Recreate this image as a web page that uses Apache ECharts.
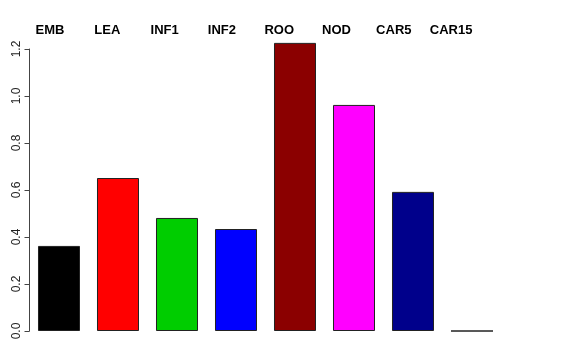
<!DOCTYPE html>
<html><head><meta charset="utf-8">
<script src="https://cdn.jsdelivr.net/npm/echarts@6/dist/echarts.min.js"></script>
<style>html,body{margin:0;padding:0;background:#fff}#c{width:576px;height:360px}</style>
</head><body><div id="c"></div>
<script>
const categories = ['EMB','LEA','INF1','INF2','ROO','NOD','CAR5','CAR15'];
const values = [0.362, 0.651, 0.481, 0.434, 1.226, 0.962, 0.592, 0.0];
const colors = ['#000000','#FF0000','#00CD00','#0000FF','#8B0000','#FF00FF','#00008B','#FFFFFF'];
const yTicks = [0, 0.2, 0.4, 0.6, 0.8, 1.0, 1.2];

const chart = echarts.init(document.getElementById('c'));
const font = 'Liberation Sans, Arial, sans-serif';
chart.setOption({
  animation: false,
  grid: [
    {left: 29.5, top: 41.95, width: 472, bottom: 29},
    {left: 21.35, top: 38, width: 458.4, height: 1},
    {left: 29.5, top: 49, width: 472, bottom: 29}
  ],
  xAxis: [
    {type: 'category', gridIndex: 0, data: categories, axisLine: {show: false}, axisTick: {show: false}, axisLabel: {show: false}},
    {type: 'category', gridIndex: 1, position: 'top', data: categories, axisLine: {show: false}, axisTick: {show: false},
     axisLabel: {fontWeight: 'bold', fontSize: 13, color: '#000', fontFamily: font, margin: 1}},
    {type: 'category', gridIndex: 2, data: categories, show: false}
  ],
  yAxis: [
    {type: 'value', gridIndex: 0, min: 0, max: 1.23, show: false},
    {type: 'value', gridIndex: 1, show: false},
    {type: 'value', gridIndex: 2, min: 0, max: 1.2, interval: 0.2, splitLine: {show: false},
     axisLine: {show: true, lineStyle: {color: '#444', width: 1}},
     axisTick: {show: true, length: 5, lineStyle: {color: '#444'}},
     axisLabel: {rotate: 90, margin: 7, fontSize: 12, color: '#222', fontFamily: font,
       formatter: v => yTicks.includes(Math.round(v*10)/10) ? v.toFixed(1) : ''}}
  ],
  series: [{
    type: 'bar', xAxisIndex: 0, yAxisIndex: 0,
    barCategoryGap: '28.8%',
    data: values.map((v, i) => ({value: v, itemStyle: {color: colors[i], borderColor: '#222', borderWidth: 1}}))
  }]
});
</script></body></html>
